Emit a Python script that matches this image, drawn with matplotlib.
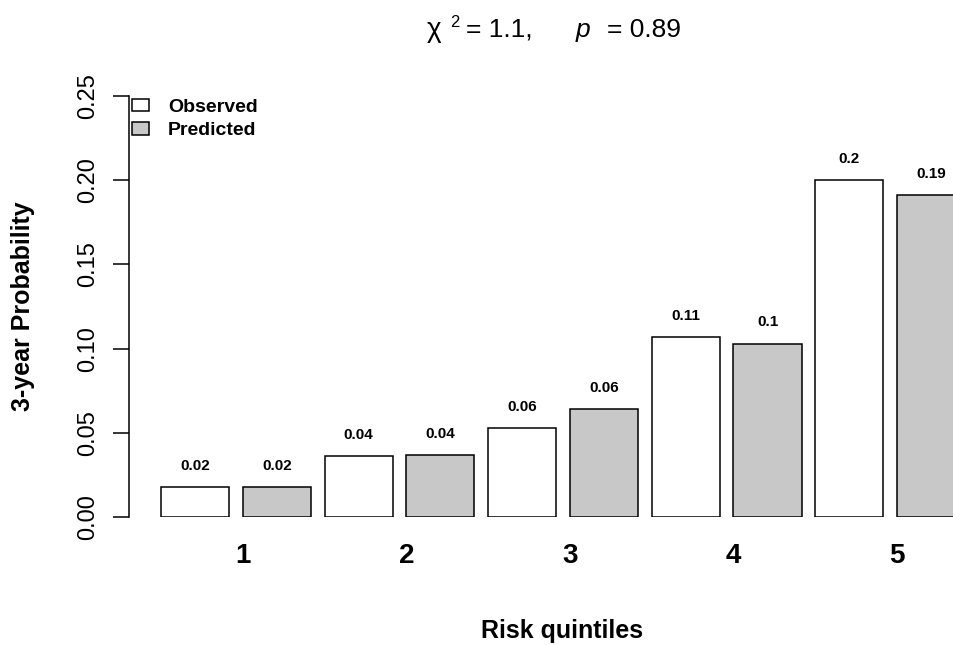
import matplotlib
matplotlib.use("Agg")
import matplotlib.pyplot as plt
from matplotlib.patches import Patch
import numpy as np

plt.rcParams['font.family'] = ['Liberation Sans', 'DejaVu Sans']

# ---- data ----
groups = ['1', '2', '3', '4', '5']
observed = [0.018, 0.036, 0.053, 0.107, 0.200]
predicted = [0.018, 0.037, 0.064, 0.103, 0.191]
obs_labels = ['0.02', '0.04', '0.06', '0.11', '0.2']
pred_labels = ['0.02', '0.04', '0.06', '0.1', '0.19']
yticks = [0.00, 0.05, 0.10, 0.15, 0.20, 0.25]
ytick_labels = ['0.00', '0.05', '0.10', '0.15', '0.20', '0.25']
chi2_text = '= 1.1,'
p_text = '= 0.89'
series_names = ['Observed', 'Predicted']

W, H = 954, 645
fig = plt.figure(figsize=(W / 100, H / 100), dpi=100)
ax = fig.add_axes([129 / W, 1 - 517 / H, 1 - 129 / W, (517 - 96) / H])

n = len(groups)
space = 0.2
pitch = 1 + space
obs_x = np.array([space + 0.5 + 2 * i * pitch for i in range(n)])
pred_x = obs_x + pitch

obs_color = 'white'
pred_color = '#C8C8C8'
ax.bar(obs_x, observed, width=1.0, color=obs_color, edgecolor='black', linewidth=1.1, zorder=2)
ax.bar(pred_x, predicted, width=1.0, color=pred_color, edgecolor='black', linewidth=1.1, zorder=2)

off = 0.0125
for x, v, s in zip(obs_x, observed, obs_labels):
    ax.text(x, v + off, s, ha='center', va='center', fontsize=11, fontweight='bold')
for x, v, s in zip(pred_x, predicted, pred_labels):
    ax.text(x, v + off, s, ha='center', va='center', fontsize=11, fontweight='bold')

ax.set_ylim(0, 0.25)
ax.set_xlim(-0.2696, 11.836)
ax.set_yticks(yticks)
ax.set_yticklabels(ytick_labels, rotation=90, va='center', fontsize=17)
ax.tick_params(axis='y', length=11.5, width=1.1, pad=10)
ax.set_xticks([])
for s in ['top', 'right', 'bottom']:
    ax.spines[s].set_visible(False)
ax.spines['left'].set_linewidth(1.1)

# group labels
centers = (obs_x + pred_x) / 2 + 0.1
trans = ax.get_xaxis_transform()
for c, g in zip(centers, groups):
    ax.text(c, -46 / 421, g, transform=trans, ha='center', va='baseline',
            fontsize=20, fontweight='bold')

fig.text(562 / W, 7 / H, 'Risk quintiles', ha='center', va='baseline',
         fontsize=18, fontweight='bold')
fig.text(23 / W, 1 - 306 / H, '3-year Probability', rotation=90, ha='center',
         va='center', fontsize=18, fontweight='bold')

# title pieces: chi^2 = 1.1,   p = 0.89
tb = 1 - 37 / H
fig.text(427 / W, tb, '\u03c7', ha='left', va='baseline', fontsize=20)
fig.text(450 / W, 1 - 27 / H, '2', ha='left', va='baseline', fontsize=12)
fig.text(466 / W, tb, chi2_text, ha='left', va='baseline', fontsize=19)
fig.text(576 / W, tb, 'p', ha='left', va='baseline', fontsize=19, style='italic')
fig.text(607 / W, tb, p_text, ha='left', va='baseline', fontsize=19)

handles = [Patch(facecolor=obs_color, edgecolor='black', linewidth=1.1),
           Patch(facecolor=pred_color, edgecolor='black', linewidth=1.1)]
leg = fig.legend(handles, series_names, loc='upper left',
                 bbox_to_anchor=(132 / W, 1 - 99 / H), frameon=False,
                 borderpad=0, borderaxespad=0, handlelength=0.86,
                 handleheight=0.6, handletextpad=1.0, labelspacing=0.32,
                 prop={'weight': 'bold', 'size': 14})

fig.savefig('out.png', dpi=100)
